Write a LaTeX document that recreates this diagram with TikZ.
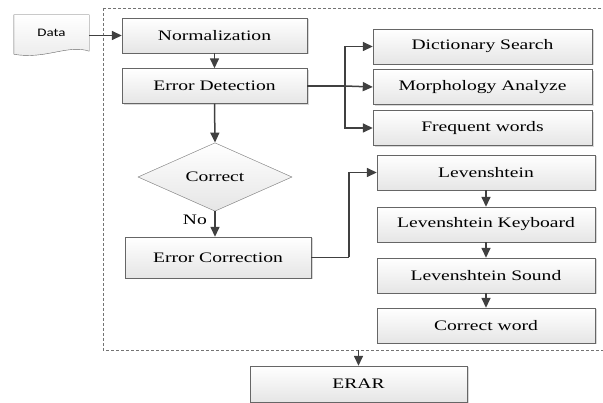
\documentclass[tikz,border=0pt]{standalone}
\usepackage{fontspec}
\setmainfont{Liberation Serif}[FakeStretch=1.35]
\newfontfamily\datafont{Carlito}[FakeStretch=1.3]
\usetikzlibrary{shapes.geometric,arrows.meta,shadows,backgrounds}

\begin{document}
\begin{tikzpicture}[x=1pt,y=1pt,
  box/.style={draw=black!60, top color=white, bottom color=black!10,
    drop shadow={shadow xshift=1.5pt,shadow yshift=-1.5pt,fill=black!30},
    minimum height=35pt, inner sep=0pt, font=\fontsize{14.5}{17}\selectfont},
  test/.style={diamond, draw=black!55, top color=white, bottom color=black!10,
    minimum width=154pt, minimum height=64pt, inner sep=0pt, font=\fontsize{14.5}{17}\selectfont},
  link/.style={draw=black!75, line width=1.5pt, -{Triangle[length=10pt,width=9pt]}},
  wire/.style={draw=black!75, line width=1.5pt}]
\useasboundingbox (0,0) rectangle (603,-403);
\draw [black!55, dash pattern=on 3pt off 2pt] (103,-8) rectangle (610,-350);
\node [minimum width=75pt, minimum height=41pt, inner sep=0pt] (data) at (51.5,-35.5) {\raisebox{5pt}{\datafont\fontsize{11.5}{13}\selectfont Data}};
\begin{scope}[on background layer]
\draw [black!60, top color=white, bottom color=black!8] (data.north west) -- (data.north east) -- ([yshift=5pt]data.south east) .. controls (68,-44) and (45,-60) .. ([yshift=2pt]data.south west) -- cycle;
\end{scope}
\node [box, minimum width=185pt] (norm) at (214.5,-35.5) {Normalization};
\node [box, minimum width=185pt] (detect) at (214.5,-86) {Error Detection};
\node [test] (check) at (215,-177) {Correct};
\node [box, minimum width=186pt, minimum height=41pt] (fix) at (218,-257.5) {Error Correction};
\node [box, minimum width=219pt] (dict) at (482.5,-46.5) {Dictionary Search};
\node [box, minimum width=219pt] (morph) at (482.5,-87) {Morphology Analyze};
\node [box, minimum width=219pt] (freq) at (482.5,-128) {Frequent words};
\node [box, minimum width=218pt] (lev) at (486,-172.5) {Levenshtein};
\node [box, minimum width=218pt] (levkey) at (486,-224.5) {Levenshtein Keyboard};
\node [box, minimum width=218pt] (levsnd) at (486,-275.5) {Levenshtein Sound};
\node [box, minimum width=218pt] (word) at (486,-325.5) {Correct word};
\node [box, minimum width=217pt, minimum height=36pt] (erar) at (358.5,-384) {ERAR};
\coordinate (split) at (345,-86);
\coordinate (bend) at (349,-257.5);
\coordinate (outlet) at (358.5,-350);
\draw [link] (data.east) -- (norm.west);
\draw [link] (norm.south) -- (detect.north);
\draw [link] (detect.south) -- (check.north);
\draw [link] (check.south) -- node [left=4pt, pos=0.35, font=\fontsize{14.5}{17}\selectfont] {No} (check.south |- fix.north);
\draw [wire] (detect.east) -- (split);
\draw [link] (split) |- (dict.west);
\draw [link] (split) -- (morph.west);
\draw [link] (split) |- (freq.west);
\draw [wire] (fix.east) -- (bend);
\draw [link] (bend) |- (lev.west);
\draw [link] (lev.south) -- (levkey.north);
\draw [link] (levkey.south) -- (levsnd.north);
\draw [link] (levsnd.south) -- (word.north);
\draw [link] (outlet) -- (erar.north);
\end{tikzpicture}
\end{document}
